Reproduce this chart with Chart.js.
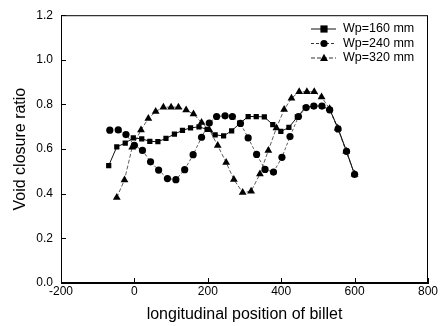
<!DOCTYPE html>
<html>
<head>
<meta charset="utf-8">
<script src="https://cdn.jsdelivr.net/npm/chart.js@4.4.0/dist/chart.umd.min.js"></script>
<style>
  html, body { margin: 0; padding: 0; background: #fff; }
  canvas { display: block; }
</style>
</head>
<body>
<canvas id="myChart" width="442" height="326"></canvas>
<script>
// posisi memanjang billet (mm) dan rasio penutupan rongga
const posWp160 = [-70, -48, -25, -3, 20, 42, 64, 86, 109, 131, 153, 176, 198, 220, 243, 265, 287, 310, 332, 354, 377, 399, 421, 444, 466, 488, 511, 533, 555, 578, 600];
const ratioWp160 = [0.526, 0.610, 0.627, 0.650, 0.646, 0.635, 0.633, 0.648, 0.667, 0.684, 0.695, 0.700, 0.688, 0.664, 0.659, 0.682, 0.715, 0.746, 0.746, 0.744, 0.710, 0.679, 0.697, 0.744, 0.786, 0.793, 0.793, 0.775, 0.693, 0.590, 0.486];

const posWp240 = [-67, -44, -23, 0, 22, 44, 66, 90, 113, 137, 160, 183, 204, 224, 247, 267, 289, 310, 333, 356, 379, 402, 424, 447, 468, 489, 511, 532, 555, 578, 600];
const ratioWp240 = [0.685, 0.686, 0.665, 0.617, 0.594, 0.543, 0.506, 0.468, 0.463, 0.508, 0.575, 0.653, 0.717, 0.746, 0.749, 0.746, 0.715, 0.650, 0.576, 0.509, 0.497, 0.563, 0.656, 0.746, 0.786, 0.793, 0.793, 0.776, 0.690, 0.590, 0.487];

const posWp320 = [-48, -27, -6, 18, 38, 58, 79, 100, 120, 141, 161, 183, 204, 227, 250, 271, 295, 318, 342, 365, 387, 408, 428, 449, 470, 490, 510, 532, 554, 577, 600];
const ratioWp320 = [0.383, 0.462, 0.608, 0.686, 0.737, 0.768, 0.788, 0.788, 0.788, 0.775, 0.757, 0.719, 0.687, 0.616, 0.540, 0.464, 0.405, 0.411, 0.488, 0.594, 0.695, 0.777, 0.828, 0.857, 0.857, 0.857, 0.833, 0.781, 0.693, 0.590, 0.487];

const xTicks = [-200, 0, 200, 400, 600, 800];
const yTicks = [0, 0.2, 0.4, 0.6, 0.8, 1.0, 1.2];

const fontName = '"Liberation Sans", Arial, sans-serif';

function toPoints(xs, ys) {
    return xs.map((x, i) => ({ x: x, y: ys[i] }));
}

// garis bingkai dan tick ke dalam
const framePlugin = {
    id: 'frame',
    afterDatasetsDraw(chart) {
        const ctx = chart.ctx;
        const a = chart.chartArea;
        const xs = chart.scales.x;
        const ys = chart.scales.y;
        ctx.save();
        ctx.strokeStyle = '#000';
        ctx.lineWidth = 1;
        ctx.strokeRect(a.left + 0.5, a.top + 0.5, a.right - a.left - 1, a.bottom - a.top - 1);
        ctx.beginPath();
        xTicks.forEach(v => {
            const px = Math.round(xs.getPixelForValue(v)) + 0.5;
            ctx.moveTo(px, a.bottom);
            ctx.lineTo(px, a.bottom - 5);
        });
        yTicks.forEach(v => {
            const py = Math.round(ys.getPixelForValue(v)) + 0.5;
            ctx.moveTo(a.left, py);
            ctx.lineTo(a.left + 5, py);
        });
        ctx.stroke();
        ctx.restore();
    }
};

function drawMarker(ctx, style, x, y, r) {
    ctx.beginPath();
    if (style === 'rect') {
        ctx.rect(x - r, y - r, 2 * r, 2 * r);
    } else if (style === 'circle') {
        ctx.arc(x, y, r, 0, Math.PI * 2);
    } else {
        ctx.moveTo(x, y - r * 1.2);
        ctx.lineTo(x + r * 1.1, y + r * 0.8);
        ctx.lineTo(x - r * 1.1, y + r * 0.8);
        ctx.closePath();
    }
    ctx.fill();
}

// legenda di pojok kanan atas
const legendPlugin = {
    id: 'boxLegend',
    afterDraw(chart) {
        const ctx = chart.ctx;
        ctx.save();
        ctx.font = '12.5px ' + fontName;
        ctx.textBaseline = 'middle';
        ctx.fillStyle = '#000';
        chart.data.datasets.forEach((ds, i) => {
            const y = 29 + i * 14.5;
            ctx.strokeStyle = ds.borderColor;
            ctx.lineWidth = 1;
            ctx.setLineDash(ds.borderDash || []);
            ctx.beginPath();
            ctx.moveTo(311, y);
            ctx.lineTo(336, y);
            ctx.stroke();
            ctx.setLineDash([]);
            ctx.fillStyle = '#000';
            drawMarker(ctx, ds.pointStyle, 324, y, 3.6);
            ctx.fillText(ds.label, 343, y);
        });
        ctx.restore();
    }
};

const ctx = document.getElementById('myChart').getContext('2d');

const data = {
    datasets: [{
        label: 'Wp=160 mm',
        data: toPoints(posWp160, ratioWp160),
        borderColor: '#111',
        backgroundColor: '#000',
        borderWidth: 1,
        pointStyle: 'rect',
        pointRadius: 3.7,
        pointBorderWidth: 0
    }, {
        label: 'Wp=240 mm',
        data: toPoints(posWp240, ratioWp240),
        borderColor: '#333',
        backgroundColor: '#000',
        borderWidth: 0.8,
        borderDash: [3, 2],
        pointStyle: 'circle',
        pointRadius: 3.6,
        pointBorderWidth: 0
    }, {
        label: 'Wp=320 mm',
        data: toPoints(posWp320, ratioWp320),
        borderColor: '#333',
        backgroundColor: '#000',
        borderWidth: 0.8,
        borderDash: [4, 2],
        pointStyle: 'triangle',
        pointRadius: 4.5,
        pointBorderWidth: 0
    }]
};

const options = {
    responsive: false,
    animation: false,
    devicePixelRatio: 1,
    layout: { padding: { top: 13, right: 14, left: 0, bottom: 0 } },
    plugins: { legend: { display: false }, tooltip: { enabled: false } },
    elements: { line: { tension: 0 } },
    scales: {
        x: {
            type: 'linear',
            min: -200,
            max: 800,
            afterBuildTicks: scale => { scale.ticks = xTicks.map(v => ({ value: v })); },
            afterFit: scale => { scale.height = 43; },
            ticks: { color: '#000', font: { family: fontName, size: 12 }, padding: 1, maxRotation: 0 },
            grid: { drawOnChartArea: false, drawTicks: false },
            border: { display: true, color: '#000' },
            title: {
                display: true,
                text: 'longitudinal position of billet',
                color: '#000',
                font: { family: fontName, size: 16 },
                padding: { top: 0, bottom: 2 }
            }
        },
        y: {
            min: 0,
            max: 1.2,
            afterBuildTicks: scale => { scale.ticks = yTicks.map(v => ({ value: v })); },
            afterFit: scale => { scale.width = 61; },
            ticks: {
                color: '#000',
                font: { family: fontName, size: 12 },
                padding: 8,
                callback: v => v.toFixed(1)
            },
            grid: { drawOnChartArea: false, drawTicks: false },
            border: { display: true, color: '#000' },
            title: {
                display: true,
                text: 'Void closure ratio',
                color: '#000',
                font: { family: fontName, size: 16 },
                padding: { top: 11, bottom: 0 }
            }
        }
    }
};

const myChart = new Chart(ctx, {
    type: 'line',
    data: data,
    options: options,
    plugins: [framePlugin, legendPlugin]
});
</script>
</body>
</html>
